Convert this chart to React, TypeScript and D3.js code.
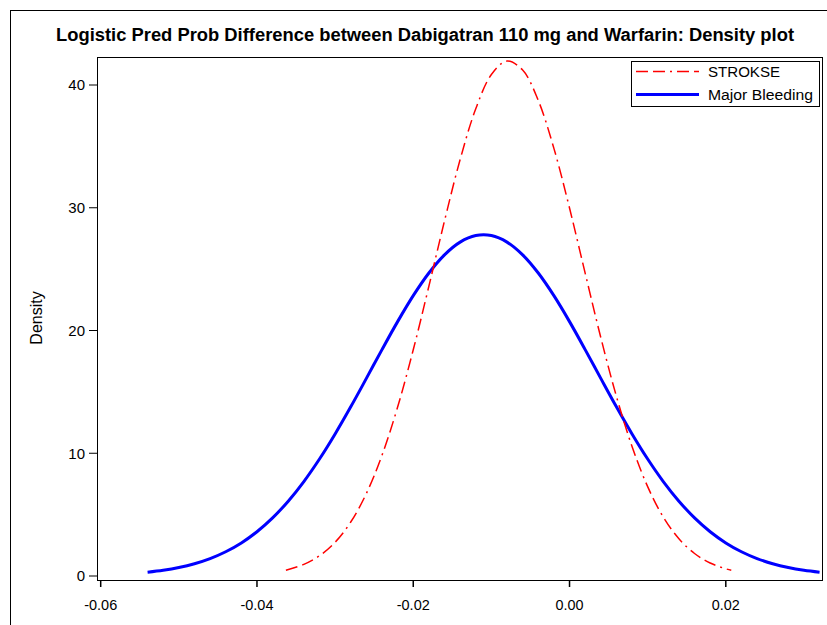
import React from "react";
import * as d3 from "d3";

// STROKSE density (red dash-dot)
const strokeX = [-0.0363, -0.034, -0.032, -0.03, -0.028, -0.026, -0.024, -0.022, -0.02, -0.018, -0.016, -0.014, -0.012, -0.01, -0.008, -0.006, -0.004, -0.002, 0.0, 0.002, 0.004, 0.006, 0.008, 0.01, 0.012, 0.014, 0.016, 0.018, 0.02, 0.0207];
const strokeY = [0.471, 0.943, 1.647, 2.751, 4.397, 6.723, 9.833, 13.762, 18.427, 23.606, 28.931, 33.928, 38.062, 40.852, 41.951, 41.215, 38.74, 34.838, 29.975, 24.674, 19.433, 14.64, 10.554, 7.28, 4.804, 3.033, 1.832, 1.059, 0.585, 0.471];

// Major Bleeding density (blue solid)
const bleedX = [-0.054, -0.052, -0.05, -0.048, -0.046, -0.044, -0.042, -0.04, -0.038, -0.036, -0.034, -0.032, -0.03, -0.028, -0.026, -0.024, -0.022, -0.02, -0.018, -0.016, -0.014, -0.012, -0.01, -0.008, -0.006, -0.004, -0.002, 0.0, 0.002, 0.004, 0.006, 0.008, 0.01, 0.012, 0.014, 0.016, 0.018, 0.02, 0.022, 0.024, 0.026, 0.028, 0.03, 0.032];
const bleedY = [0.312, 0.469, 0.692, 1.001, 1.42, 1.975, 2.696, 3.607, 4.735, 6.095, 7.694, 9.528, 11.571, 13.782, 16.098, 18.444, 20.723, 22.836, 24.682, 26.163, 27.199, 27.732, 27.732, 27.199, 26.163, 24.682, 22.836, 20.723, 18.444, 16.098, 13.782, 11.571, 9.528, 7.694, 6.095, 4.735, 3.607, 2.696, 1.975, 1.42, 1.001, 0.692, 0.469, 0.312];

const xTicks = [-0.06, -0.04, -0.02, 0.0, 0.02];
const xTickLabels = ["-0.06", "-0.04", "-0.02", "0.00", "0.02"];
const yTicks = [0, 10, 20, 30, 40];
const yTickLabels = ["0", "10", "20", "30", "40"];

const seriesNames = ["STROKSE", "Major Bleeding"];
const title = "Logistic Pred Prob Difference between Dabigatran 110 mg and Warfarin: Density plot";
const yLabel = "Density";

const FONT = "'Liberation Sans', Arial, Helvetica, sans-serif";

export default function App() {
  const x = d3.scaleLinear().domain([-0.06, 0.02]).range([100.7, 725.8]);
  const y = d3.scaleLinear().domain([0, 40]).range([576, 85]);

  const plot = { l: 97, t: 57, r: 822, b: 580 };

  const line = d3
    .line<[number, number]>()
    .x((d) => x(d[0]))
    .y((d) => y(d[1]))
    .curve(d3.curveCatmullRom);

  const strokePath = line(strokeX.map((v, i) => [v, strokeY[i]] as [number, number])) || "";
  const bleedPath = line(bleedX.map((v, i) => [v, bleedY[i]] as [number, number])) || "";

  const dash = "12,5,12,5,2,5";

  return (
    <svg
      width={827}
      height={625}
      style={{ position: "absolute", left: 0, top: 0, background: "#fff" }}
      fontFamily={FONT}
    >
      <rect x={0} y={0} width={827} height={625} fill="#fff" />
      {/* outer frame */}
      <rect x={10.5} y={10.5} width={900} height={700} fill="none" stroke="#000" strokeWidth={1} />

      {/* title */}
      <text
        x={425}
        y={41}
        textAnchor="middle"
        fontSize={17.5}
        fontWeight="bold"
        textLength={738}
        lengthAdjust="spacingAndGlyphs"
        fill="#000"
      >
        {title}
      </text>

      {/* plot frame */}
      <rect
        x={plot.l + 0.5}
        y={plot.t + 0.5}
        width={plot.r - plot.l}
        height={plot.b - plot.t}
        fill="none"
        stroke="#000"
        strokeWidth={1}
      />

      {/* curves */}
      <path d={bleedPath} fill="none" stroke="#0000ff" strokeWidth={3} />
      <path d={strokePath} fill="none" stroke="#ff0000" strokeWidth={1.5} strokeDasharray={dash} />

      {/* y axis ticks */}
      {yTicks.map((t, i) => (
        <g key={"y" + t}>
          <line x1={89} x2={plot.l} y1={y(t)} y2={y(t)} stroke="#000" strokeWidth={1} />
          <text x={85} y={y(t)} dy="0.36em" textAnchor="end" fontSize={15} fill="#000">
            {yTickLabels[i]}
          </text>
        </g>
      ))}

      {/* x axis ticks */}
      {xTicks.map((t, i) => (
        <g key={"x" + t}>
          <line x1={x(t)} x2={x(t)} y1={plot.b} y2={plot.b + 7} stroke="#000" strokeWidth={1.5} />
          <text x={x(t)} y={610} textAnchor="middle" fontSize={15} textLength={xTickLabels[i].length > 4 ? 33 : 28} lengthAdjust="spacingAndGlyphs" fill="#000">
            {xTickLabels[i]}
          </text>
        </g>
      ))}

      {/* y label */}
      <text
        transform="translate(42,318) rotate(-90)"
        textAnchor="middle"
        fontSize={16}
        fill="#000"
      >
        {yLabel}
      </text>

      {/* legend */}
      <rect x={631.5} y={61.5} width={188} height={45} fill="#fff" stroke="#000" strokeWidth={1} />
      <line x1={636} x2={699} y1={71.5} y2={71.5} stroke="#ff0000" strokeWidth={1.5} strokeDasharray={dash} />
      <text x={708} y={77} fontSize={14} textLength={72} lengthAdjust="spacingAndGlyphs" fill="#000">
        {seriesNames[0]}
      </text>
      <line x1={636} x2={699} y1={94.5} y2={94.5} stroke="#0000ff" strokeWidth={3} />
      <text x={708} y={100} fontSize={14} textLength={105} lengthAdjust="spacingAndGlyphs" fill="#000">
        {seriesNames[1]}
      </text>
    </svg>
  );
}
